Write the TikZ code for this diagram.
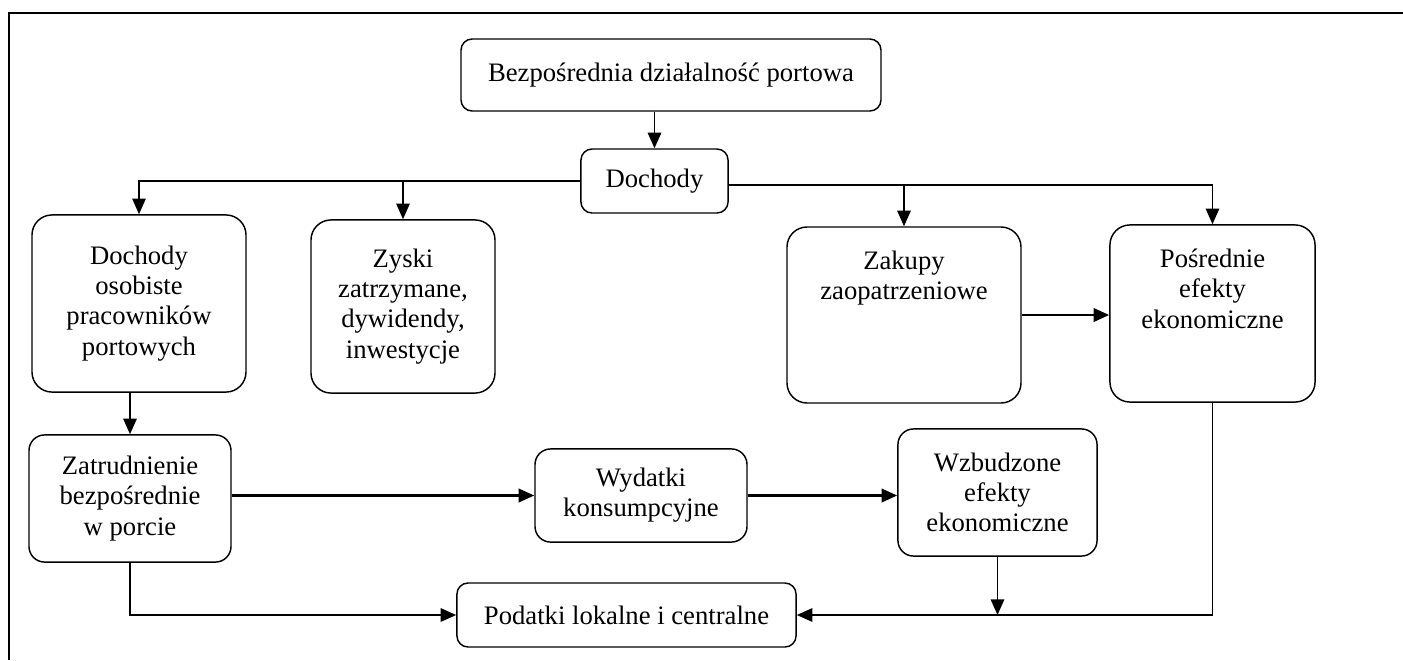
\documentclass[tikz,border=0pt]{standalone}
\usepackage{fontspec}
\setmainfont{Liberation Serif}
\usetikzlibrary{arrows.meta}

\begin{document}
\begin{tikzpicture}[x=0.45pt,y=-0.45pt,
    font=\fontsize{12}{13.6}\selectfont,
    box/.style={draw,line width=0.65pt,rounded corners=#1,align=center,inner sep=0pt},
    box/.default=9pt,
    toptext/.style={align=center,anchor=north,inner sep=0pt,yshift=-11pt},
    flow/.style={line width=0.85pt,-{Triangle[length=7pt,width=6pt]}},
    thickflow/.style={flow,line width=1.15pt}]
    \useasboundingbox (0,0) rectangle (1403,660);
    \draw[line width=0.55pt] (9,660) -- (9,13) -- (1403,13);

    % top row
    \node[box=5pt,minimum width=189pt,minimum height=32.4pt] (direct) at (671,75)
      {Bezpośrednia działalność portowa};
    \node[box=5pt,minimum width=66.2pt,minimum height=28.8pt] (income) at (654.5,181)
      {Dochody};

    % middle row
    \node[box,minimum width=96.3pt,minimum height=79.7pt] (personal) at (139,303.5) {
      Dochody \\
      osobiste \\
      pracowników \\
      portowych};
    \node[box,minimum width=82.8pt,minimum height=77.9pt] (profits) at (403,306.5) {
      Zyski \\
      zatrzymane, \\
      dywidendy, \\
      inwestycje};
    \node[box,minimum width=105.3pt,minimum height=79.2pt,
      label={[toptext]north:Zakupy\\zaopatrzeniowe}] (supplies) at (904,315) {};
    \node[box,minimum width=92.3pt,minimum height=79.7pt,
      label={[toptext]north:Pośrednie\\efekty\\ekonomiczne}] (indirect) at (1212.5,313.5) {};

    % bottom rows
    \node[box=7pt,minimum width=90.9pt,minimum height=57.2pt] (employ) at (130,498.5) {
      Zatrudnienie \\
      bezpośrednie \\
      w porcie};
    \node[box=7pt,minimum width=95.4pt,minimum height=41.9pt] (consum) at (641,495.5) {
      Wydatki \\
      konsumpcyjne};
    \node[box=7pt,minimum width=89.6pt,minimum height=57.2pt] (induced) at (997.5,492.5) {
      Wzbudzone \\
      efekty \\
      ekonomiczne};
    \node[box=5pt,minimum width=152.6pt,minimum height=28.8pt] (taxes) at (626.5,615)
      {Podatki lokalne i centralne};

    \coordinate (split) at ([yshift=-1.8pt]income.east);

    \draw[flow] (direct.south -| income.north) -- (income.north);
    \draw[flow,line width=0.7pt] (income.west) -| (personal.north);
    \draw[flow,line width=0.7pt] (income.west -| profits.north) -- (profits.north);
    \draw[flow,line width=0.7pt] (split) -| (indirect.north);
    \draw[flow] (split -| supplies.north) -- (supplies.north);
    \draw[thickflow] (supplies.east) -- (supplies.east -| indirect.west);
    \draw[flow] (personal.south -| employ.north) -- (employ.north);
    \draw[thickflow] (employ.east |- consum.west) -- (consum.west);
    \draw[thickflow] (consum.east) -- (consum.east -| induced.west);
    \draw[flow] (employ.south) |- (taxes.west);
    \draw[flow] (induced.south) -- (induced.south |- taxes.east);
    \draw[flow] (indirect.south) |- (taxes.east);
  \end{tikzpicture}
\end{document}
